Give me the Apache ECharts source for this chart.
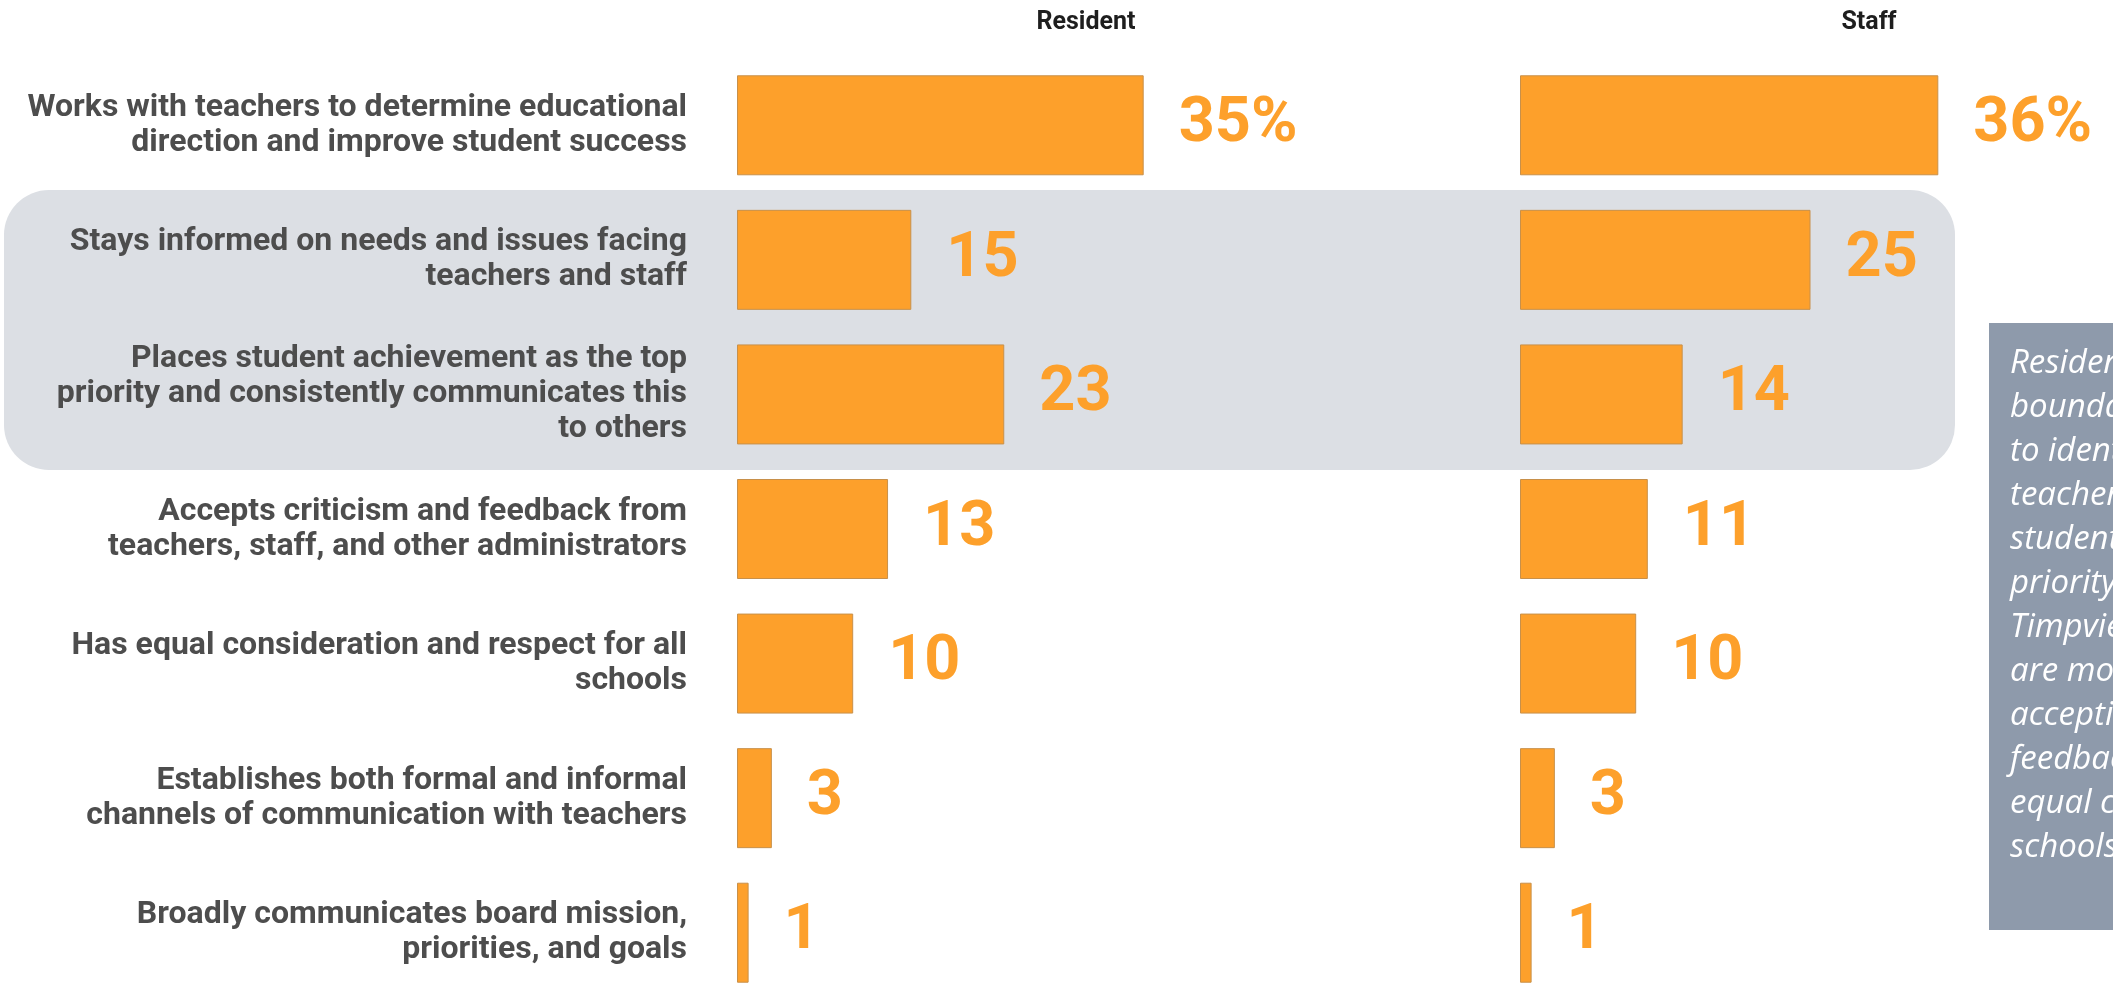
<!DOCTYPE html>
<html>
<head>
<meta charset="utf-8">
<title>Board member qualities: Resident vs Staff</title>
<script src="https://cdn.jsdelivr.net/npm/echarts@6/dist/echarts.min.js"></script>
<style>
  html, body { margin: 0; padding: 0; background: #ffffff; }
  #chart { width: 2113px; height: 983px; }
</style>
</head>
<body>
<div id="chart"></div>
<script>
// Qualities rated by each group (share of respondents, %)
const categories = [
  'Works with teachers to determine educational\ndirection and improve student success',
  'Stays informed on needs and issues facing\nteachers and staff',
  'Places student achievement as the top\npriority and consistently communicates this\nto others',
  'Accepts criticism and feedback from\nteachers, staff, and other administrators',
  'Has equal consideration and respect for all\nschools',
  'Establishes both formal and informal\nchannels of communication with teachers',
  'Broadly communicates board mission,\npriorities, and goals'
];
const residentValues = [35, 15, 23, 13, 10, 3, 1];
const staffValues = [36, 25, 14, 11, 10, 3, 1];
const groupNames = ['Resident', 'Staff'];

const noteLines = [
  'Residents in the',
  'boundary are less likely',
  'to identify with',
  'teachers\u2019 needs, but value',
  'student achievement as a top',
  'priority more than',
  'Timpview staff. Both groups',
  'are mostly aligned on',
  'accepting criticism and',
  'feedback, and on',
  'equal consideration for all',
  'schools.'
];

const ORANGE = '#fda02b';
const FONT = 'Roboto, "Liberation Sans", sans-serif';

const chart = echarts.init(document.getElementById('chart'), null, { renderer: 'canvas' });

function valueLabel(p) {
  return p.dataIndex === 0 ? p.value + '%' : String(p.value);
}

const gridTop = 58, gridHeight = 942, axisMax = 50, gridWidth = 581;

const option = {
  animation: false,
  backgroundColor: '#ffffff',
  grid: [
    { left: 737, top: gridTop, width: gridWidth, height: gridHeight,
      containLabel: false, outerBoundsMode: 'none' },
    { left: 1520, top: gridTop, width: gridWidth, height: gridHeight,
      containLabel: false, outerBoundsMode: 'none' }
  ],
  xAxis: [0, 1].map(i => ({
    type: 'value', gridIndex: i, min: 0, max: axisMax,
    show: false, splitLine: { show: false }
  })),
  yAxis: [0, 1].map(i => ({
    type: 'category', gridIndex: i, data: categories, inverse: true,
    axisLine: { show: false }, axisTick: { show: false },
    axisLabel: {
      show: i === 0, margin: 50, fontSize: 32, lineHeight: 35,
      fontWeight: 'bold', fontFamily: FONT, color: '#4d4d4d', align: 'right'
    }
  })),
  graphic: [
    {
      type: 'rect', z: -10, silent: true,
      shape: { x: 4, y: 190, width: 1951, height: 280, r: 45 },
      style: { fill: '#dcdfe4' }
    },
    {
      type: 'rect', z: 10, silent: true,
      shape: { x: 1989, y: 323, width: 420, height: 607 },
      style: { fill: '#8e9aab' }
    },
    {
      type: 'text', z: 11, silent: true, x: 2010, y: 342,
      style: {
        text: noteLines.join('\n'), fill: '#ffffff',
        font: 'italic 400 33px "Open Sans", Lato, sans-serif',
        lineHeight: 44, align: 'left', verticalAlign: 'top'
      }
    },
    {
      type: 'text', x: 1086, y: 23, silent: true,
      style: { text: groupNames[0], fill: '#1e1e1e', font: 'bold 25px ' + FONT,
               align: 'center', verticalAlign: 'middle' }
    },
    {
      type: 'text', x: 1869, y: 23, silent: true,
      style: { text: groupNames[1], fill: '#1e1e1e', font: 'bold 25px ' + FONT,
               align: 'center', verticalAlign: 'middle' }
    }
  ],
  series: [residentValues, staffValues].map((vals, i) => ({
    type: 'bar', name: groupNames[i], xAxisIndex: i, yAxisIndex: i,
    data: vals, barWidth: 100,
    itemStyle: { color: ORANGE, borderColor: '#c8904a', borderWidth: 1 },
    label: {
      show: true, position: 'right', distance: 35, formatter: valueLabel,
      color: ORANGE, fontSize: 63, fontWeight: 'bold', fontFamily: FONT
    }
  }))
};

chart.setOption(option);
</script>
</body>
</html>
